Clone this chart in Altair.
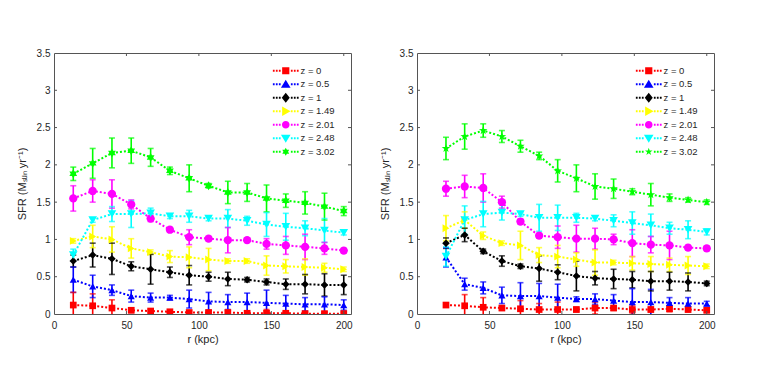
import math
import altair as alt
import pandas as pd

# ---------------- data ----------------
series = ["z = 0", "z = 0.5", "z = 1", "z = 1.49", "z = 2.01", "z = 2.48", "z = 3.02"]
colors = ["#ff0000", "#0000ff", "#000000", "#ffff00", "#ff00ff", "#00ffff", "#00ff00"]

x_ticks = [0, 50, 100, 150, 200]
y_ticks = [0, 0.5, 1, 1.5, 2, 2.5, 3, 3.5]

r_left = [13.3, 26.7, 40.0, 53.3, 66.7, 80.0, 93.3, 106.7, 120.0, 133.3, 146.7, 160.0, 173.3, 186.7, 200.0]
r_right = [20.0, 32.9, 45.7, 58.6, 71.4, 84.3, 97.1, 110.0, 122.9, 135.7, 148.6, 161.4, 174.3, 187.1, 200.0]

# left panel
L_z0 = [0.12, 0.11, 0.08, 0.05, 0.04, 0.03, 0.02, 0.02, 0.02, 0.01, 0.01, 0.01, 0.005, 0.005, 0.005]
L_z0_err = [0.17, 0.16, 0.11, 0.03, 0.02, 0.02, 0.02, 0.02, 0.02, 0.02, 0.05, 0.02, 0.02, 0.02, 0.02]
L_z05 = [0.46, 0.37, 0.32, 0.24, 0.22, 0.22, 0.20, 0.17, 0.16, 0.16, 0.15, 0.14, 0.13, 0.13, 0.12]
L_z05_err = [0.17, 0.15, 0.07, 0.08, 0.06, 0.03, 0.12, 0.12, 0.10, 0.12, 0.17, 0.11, 0.09, 0.10, 0.07]
L_z1 = [0.71, 0.79, 0.74, 0.64, 0.60, 0.56, 0.52, 0.50, 0.47, 0.46, 0.43, 0.40, 0.40, 0.39, 0.39]
L_z1_err = [0.08, 0.16, 0.21, 0.06, 0.20, 0.07, 0.13, 0.06, 0.09, 0.03, 0.04, 0.07, 0.13, 0.15, 0.13]
L_z149 = [0.98, 1.04, 1.00, 0.88, 0.83, 0.77, 0.76, 0.73, 0.71, 0.71, 0.65, 0.64, 0.63, 0.62, 0.60]
L_z149_err = [0.03, 0.15, 0.17, 0.13, 0.03, 0.08, 0.14, 0.15, 0.03, 0.03, 0.13, 0.09, 0.11, 0.06, 0.03]
L_z201 = [1.55, 1.65, 1.61, 1.47, 1.28, 1.13, 1.03, 1.01, 0.99, 0.99, 0.94, 0.92, 0.90, 0.88, 0.85]
L_z201_err = [0.17, 0.15, 0.19, 0.06, 0.04, 0.03, 0.10, 0.03, 0.17, 0.03, 0.07, 0.12, 0.17, 0.08, 0.03]
L_z248 = [0.79, 1.26, 1.34, 1.34, 1.35, 1.31, 1.31, 1.28, 1.28, 1.25, 1.20, 1.17, 1.15, 1.12, 1.09]
L_z248_err = [0.08, 0.03, 0.10, 0.18, 0.07, 0.03, 0.08, 0.03, 0.12, 0.06, 0.16, 0.18, 0.10, 0.16, 0.03]
L_z302 = [1.88, 2.02, 2.16, 2.19, 2.10, 1.92, 1.82, 1.72, 1.63, 1.63, 1.55, 1.52, 1.49, 1.44, 1.38]
L_z302_err = [0.09, 0.20, 0.20, 0.17, 0.12, 0.05, 0.18, 0.03, 0.15, 0.12, 0.18, 0.09, 0.15, 0.18, 0.06]

# right panel
R_z0 = [0.12, 0.11, 0.09, 0.08, 0.07, 0.06, 0.06, 0.06, 0.08, 0.08, 0.06, 0.06, 0.07, 0.06, 0.05]
R_z0_err = [0.02, 0.15, 0.13, 0.03, 0.11, 0.08, 0.10, 0.03, 0.08, 0.03, 0.06, 0.03, 0.04, 0.03, 0.03]
R_z05 = [0.76, 0.40, 0.35, 0.25, 0.24, 0.24, 0.22, 0.20, 0.20, 0.18, 0.16, 0.16, 0.15, 0.14, 0.14]
R_z05_err = [0.13, 0.08, 0.08, 0.11, 0.18, 0.17, 0.18, 0.03, 0.07, 0.08, 0.18, 0.17, 0.07, 0.08, 0.03]
R_z1 = [0.95, 1.06, 0.84, 0.71, 0.64, 0.61, 0.56, 0.51, 0.48, 0.47, 0.46, 0.44, 0.44, 0.43, 0.41]
R_z1_err = [0.07, 0.09, 0.03, 0.07, 0.03, 0.17, 0.10, 0.20, 0.09, 0.13, 0.11, 0.13, 0.12, 0.12, 0.03]
R_z149 = [1.15, 1.26, 1.05, 0.95, 0.92, 0.79, 0.77, 0.73, 0.69, 0.69, 0.68, 0.67, 0.66, 0.65, 0.64]
R_z149_err = [0.17, 0.11, 0.05, 0.03, 0.19, 0.10, 0.15, 0.09, 0.17, 0.03, 0.09, 0.10, 0.09, 0.12, 0.03]
R_z201 = [1.68, 1.71, 1.69, 1.50, 1.24, 1.05, 1.03, 1.01, 1.01, 1.00, 0.95, 0.93, 0.92, 0.89, 0.88]
R_z201_err = [0.10, 0.15, 0.19, 0.08, 0.03, 0.03, 0.15, 0.18, 0.14, 0.07, 0.18, 0.11, 0.19, 0.03, 0.03]
R_z248 = [0.77, 1.26, 1.34, 1.36, 1.34, 1.29, 1.29, 1.29, 1.28, 1.25, 1.22, 1.19, 1.15, 1.13, 1.10]
R_z248_err = [0.13, 0.19, 0.17, 0.10, 0.03, 0.18, 0.17, 0.06, 0.03, 0.08, 0.15, 0.15, 0.08, 0.12, 0.04]
R_z302 = [2.22, 2.38, 2.46, 2.38, 2.25, 2.12, 1.92, 1.82, 1.71, 1.68, 1.64, 1.60, 1.56, 1.53, 1.50]
R_z302_err = [0.15, 0.17, 0.09, 0.08, 0.08, 0.05, 0.15, 0.18, 0.17, 0.13, 0.04, 0.15, 0.05, 0.03, 0.03]

left_vals = [L_z0, L_z05, L_z1, L_z149, L_z201, L_z248, L_z302]
left_errs = [L_z0_err, L_z05_err, L_z1_err, L_z149_err, L_z201_err, L_z248_err, L_z302_err]
right_vals = [R_z0, R_z05, R_z1, R_z149, R_z201, R_z248, R_z302]
right_errs = [R_z0_err, R_z05_err, R_z1_err, R_z149_err, R_z201_err, R_z248_err, R_z302_err]

# ---------------- style ----------------
W, H = 297, 261
TXT = "#262626"
FRAME = "#555555"
FONT = "Liberation Sans"


def star(n, inner, scale=1.0):
    pts = []
    for k in range(2 * n):
        rad = scale * (1.0 if k % 2 == 0 else inner)
        a = -math.pi / 2 + k * math.pi / n
        pts.append(f"{rad * math.cos(a):.3f},{rad * math.sin(a):.3f}")
    return "M" + "L".join(pts) + "Z"


hexagram = star(6, 0.577)
pentagram = star(5, 0.40)

marker_paths = {
    "square": "M-0.9,-0.9L0.9,-0.9L0.9,0.9L-0.9,0.9Z",
    "triangle-up": "M0,-1.15L1.2,0.85L-1.2,0.85Z",
    "diamond": "M0,-1.25L1,0L0,1.25L-1,0Z",
    "triangle-right": "M1.2,0L-0.9,-1.2L-0.9,1.2Z",
    "circle": "M0.95,0A0.95,0.95 0 1 1 -0.95,0A0.95,0.95 0 1 1 0.95,0Z",
    "triangle-down": "M0,1.15L1.2,-0.85L-1.2,-0.85Z",
}

dot_centers = [-3.0, -2.25, -1.5, 1.5, 2.25, 3.0]
dots = "".join(
    f"M{c - 0.22:.2f},-0.25L{c + 0.22:.2f},-0.25L{c + 0.22:.2f},0.25L{c - 0.22:.2f},0.25Z" for c in dot_centers
)


def legend_paths(star_path):
    base = [marker_paths[k] for k in ["square", "triangle-up", "diamond", "triangle-right", "circle", "triangle-down"]]
    return [dots + p for p in base] + [dots + star_path]


def panel_df(r, vals, errs):
    rows = []
    for s, v, e in zip(series, vals, errs):
        for ri, vi, ei in zip(r, v, e):
            rows.append({"z": s, "r": ri, "sfr": vi, "lo": vi - ei, "hi": vi + ei})
    return pd.DataFrame(rows)


xscale = alt.Scale(domain=[0, 205], nice=False, zero=False)
yscale = alt.Scale(domain=[0, 3.5], nice=False, zero=False)
xt_df = pd.DataFrame({"r": [v for v in x_ticks if v > 0]})
yt_df = pd.DataFrame({"sfr": [v for v in y_ticks if 0 < v < 3.5]})

x_axis = alt.Axis(values=x_ticks, title="r (kpc)", labelPadding=6, titlePadding=3, labelOverlap=False)
y_axis = alt.Axis(values=y_ticks, format=".1~f", title="SFR (Mₛᵤₙ yr⁻¹)",
                  labelPadding=4, titlePadding=9, labelOverlap=False)


def panel(r, vals, errs, star_path):
    df = panel_df(r, vals, errs)
    base = alt.Chart(df)
    x = alt.X("r:Q", scale=xscale, axis=x_axis)
    y = alt.Y("sfr:Q", scale=yscale, axis=y_axis)
    col = alt.Color("z:N", scale=alt.Scale(domain=series, range=colors), legend=None)
    shapes = ["square", "triangle-up", "diamond", "triangle-right", "circle", "triangle-down", star_path]
    sizes = [45, 80, 55, 80, 60, 80, 95]

    err = base.mark_rule(strokeWidth=1.6, clip=True).encode(
        x=x, y=alt.Y("lo:Q", scale=yscale, axis=y_axis), y2="hi:Q", color=col)
    cap_lo = base.mark_tick(thickness=1.6, size=6, orient="horizontal", clip=True).encode(
        x=x, y=alt.Y("lo:Q", scale=yscale, axis=y_axis), color=col)
    cap_hi = base.mark_tick(thickness=1.6, size=6, orient="horizontal", clip=True).encode(
        x=x, y=alt.Y("hi:Q", scale=yscale, axis=y_axis), color=col)
    line = base.mark_line(strokeDash=[2, 2], strokeWidth=2, clip=True).encode(
        x=x, y=y, color=col, detail="z:N", order="r:Q")
    pts = base.mark_point(filled=True, opacity=1, clip=True).encode(
        x=x, y=y, color=col,
        shape=alt.Shape("z:N", scale=alt.Scale(domain=series, range=shapes), legend=None),
        size=alt.Size("z:N", scale=alt.Scale(domain=series, range=sizes), legend=None),
    )
    leg_kw = dict(orient="none", legendX=227, legendY=13, title=None, labelFontSize=9.5,
                  labelFont=FONT, labelColor=TXT, symbolSize=64, symbolStrokeWidth=0,
                  labelOffset=10, rowPadding=2.5, padding=0)
    leg = base.transform_filter("false").mark_point(filled=True, opacity=1).encode(
        x=x, y=y,
        color=alt.Color("z:N", scale=alt.Scale(domain=series, range=colors), legend=alt.Legend(**leg_kw)),
        shape=alt.Shape("z:N", scale=alt.Scale(domain=series, range=legend_paths(star_path)),
                        legend=alt.Legend(**leg_kw)),
    )
    tk = dict(color=FRAME, strokeWidth=1)
    tx = alt.X("r:Q", scale=xscale, axis=x_axis)
    ty = alt.Y("sfr:Q", scale=yscale, axis=y_axis)
    t_top = alt.Chart(xt_df).mark_rule(**tk).encode(x=tx, y=alt.value(0), y2=alt.value(3))
    t_bot = alt.Chart(xt_df).mark_rule(**tk).encode(x=tx, y=alt.value(H), y2=alt.value(H - 3))
    t_left = alt.Chart(yt_df).mark_rule(**tk).encode(y=ty, x=alt.value(0), x2=alt.value(3))
    t_right = alt.Chart(yt_df).mark_rule(**tk).encode(y=ty, x=alt.value(W - 3), x2=alt.value(W))

    return alt.layer(err, cap_lo, cap_hi, line, pts, leg, t_top, t_bot, t_left, t_right).resolve_scale(
        color="independent", shape="independent", size="independent"
    ).properties(width=W, height=H)


left = panel(r_left, left_vals, left_errs, hexagram)
right = panel(r_right, right_vals, right_errs, pentagram)

chart = alt.hconcat(left, right, spacing=25).resolve_scale(
    color="independent", shape="independent"
).resolve_legend(color="independent", shape="independent").configure(
    padding={"left": 7, "top": 39, "right": 5, "bottom": 5}, background="white"
).configure_view(stroke=FRAME, strokeWidth=1).configure_axis(
    labelFont=FONT, labelFontSize=10, labelColor=TXT, titleFont=FONT, titleFontSize=11,
    titleFontWeight="normal", titleColor=TXT, ticks=False, domain=False, grid=False, labelFlush=False,
)

chart.save("out.html", embed_options={"renderer": "svg", "actions": False})
